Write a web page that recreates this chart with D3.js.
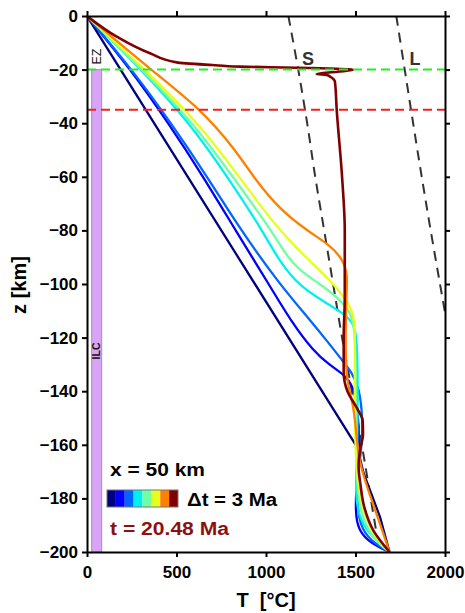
<!DOCTYPE html>
<html>
<head>
<meta charset="utf-8">
<script src="https://cdn.jsdelivr.net/npm/d3@7"></script>
<style>
  html, body { margin: 0; padding: 0; background: #fff; }
  svg text { font-family: "Liberation Sans", Arial, Helvetica, sans-serif; }
</style>
</head>
<body>
<svg id="chart" width="465" height="613"></svg>
<script>
// ---- data: temperature profiles, points are [T (°C), z (km)] ----
const xTicks = [0, 500, 1000, 1500, 2000];
const zTicks = [0, -20, -40, -60, -80, -100, -120, -140, -160, -180, -200];
const jetColors = ["#000080", "#0000ff", "#0066ff", "#00f0f0", "#70ffa0", "#e6ff1a", "#ff8000", "#800000"];

const prof0 = [[0,0],[1515,-161.5],[1528,-166],[1545,-170.5],[1637,-187],[1690,-200]];
const prof1 = [[0,0],[245,-20],[455,-40],[650,-60],[830,-80],[1015,-100],[1150,-115],[1265,-125],[1350,-130],[1440,-134],[1485,-138],[1510,-145],[1525,-160],[1508,-172],[1498,-185],[1515,-192],[1590,-197],[1690,-200]];
const prof2 = [[0,0],[252,-20],[470,-40],[672,-60],[860,-80],[1075,-100],[1240,-113],[1350,-122],[1420,-128],[1480,-133],[1522,-139],[1540,-150],[1536,-160],[1515,-170],[1508,-180],[1522,-190],[1585,-196],[1690,-200]];
const prof3 = [[0,0],[305,-20],[575,-40],[785,-60],[980,-80],[1078,-92],[1190,-101],[1339,-107.2],[1432,-111],[1480,-114],[1505,-118],[1512,-130],[1512,-150],[1508,-165],[1500,-178],[1515,-186],[1570,-193],[1690,-200]];
const prof4 = [[0,0],[310,-20],[595,-40],[815,-60],[1030,-80],[1120,-90],[1190,-95],[1300,-100],[1380,-104],[1450,-108.5],[1485,-113],[1498,-120],[1502,-135],[1502,-150],[1505,-165],[1510,-175],[1522,-184],[1590,-195],[1690,-200]];
const prof5 = [[0,0],[325,-20],[625,-40],[850,-60],[960,-70],[1078,-80],[1220,-90],[1358,-98.5],[1450,-106],[1488,-111],[1497,-117],[1496,-130],[1495,-150],[1502,-165],[1515,-175],[1538,-184],[1609,-195],[1690,-200]];
const prof6 = [[0,0],[355,-20],[641,-35],[830,-50],[939,-61],[1075,-72],[1227,-80],[1358,-85.5],[1432,-91],[1456,-97],[1450,-103],[1445,-115],[1445,-130],[1458,-138],[1486,-145],[1500,-152],[1516,-165],[1560,-175],[1630,-188],[1690,-200]];
const prof7 = [[0,0],[166,-7.7],[352,-13.9],[501,-17.3],[700,-18.3],[855,-18.9],[1171,-19.3],[1488,-20.1],[1400,-20.8],[1283,-21.6],[1340,-22],[1358,-22.6],[1385,-24.5],[1395,-35],[1425,-60],[1440,-80],[1440,-105],[1434,-120],[1434,-133],[1455,-140],[1505,-146],[1540,-151],[1542,-156],[1525,-162],[1517,-168],[1528,-175],[1548,-183],[1600,-192],[1690,-200]];
const profiles = [prof0, prof1, prof2, prof3, prof4, prof5, prof6, prof7];

const solidus = [[1125,0],[1180,-20],[1230,-40],[1275,-60],[1325,-80],[1375,-100],[1425,-120],[1480,-140],[1535,-160],[1585,-180],[1635,-200]];
const liquidus = [[1728,0],[1775,-20],[1822,-40],[1870,-60],[1920,-80],[1972,-100],[2025,-120]];
const ezDepth = -20;      // green dashed
const mohoDepth = -35;    // red dashed
const ilcRange = [26, 82]; // purple bar, T range
const ilcDepth = [-20, -200];

// ---- drawing ----
const svg = d3.select("#chart");
const x = d3.scaleLinear().domain([0, 2000]).range([87, 445]);
const y = d3.scaleLinear().domain([0, -200]).range([16, 552]);

svg.append("defs").append("clipPath").attr("id", "plotclip")
  .append("rect").attr("x", x(0)).attr("y", y(0))
  .attr("width", x(2000) - x(0)).attr("height", y(-200) - y(0));

const plot = svg.append("g").attr("clip-path", "url(#plotclip)");

// ILC bar
plot.append("rect")
  .attr("x", x(ilcRange[0])).attr("y", y(ilcDepth[0]))
  .attr("width", x(ilcRange[1]) - x(ilcRange[0]))
  .attr("height", y(ilcDepth[1]) - y(ilcDepth[0]))
  .attr("fill", "#d9a3f7").attr("stroke", "#9a9a9a").attr("stroke-width", 1);

const smooth = d3.line().x(d => x(d[0])).y(d => y(d[1])).curve(d3.curveBasis);
const mono = d3.line().x(d => x(d[0])).y(d => y(d[1])).curve(d3.curveMonotoneY);
const lin = d3.line().x(d => x(d[0])).y(d => y(d[1])).curve(d3.curveLinear);
const straight = d3.line().x(d => x(d[0])).y(d => y(d[1])).curve(d3.curveCatmullRom);

// solidus / liquidus
[solidus, liquidus].forEach(s => {
  plot.append("path").datum(s).attr("d", straight).attr("fill", "none")
    .attr("stroke", "#333").attr("stroke-width", 2).attr("stroke-dasharray", "10,7");
});

profiles.forEach((p, i) => {
  const gen = i === 0 ? lin : (i === 7 ? mono : smooth);
  plot.append("path").datum(p).attr("d", gen).attr("fill", "none")
    .attr("stroke", jetColors[i]).attr("stroke-width", i === 7 ? 2.6 : 2.3)
    .attr("stroke-linejoin", "round");
});

// horizontal dashed lines
plot.append("line").attr("x1", x(0)).attr("x2", x(2000)).attr("y1", y(ezDepth)).attr("y2", y(ezDepth))
  .attr("stroke", "#22ee22").attr("stroke-width", 2).attr("stroke-dasharray", "9,5");
plot.append("line").attr("x1", x(0)).attr("x2", x(2000)).attr("y1", y(mohoDepth)).attr("y2", y(mohoDepth))
  .attr("stroke", "#ee2222").attr("stroke-width", 2).attr("stroke-dasharray", "9,5");

// labels S, L, EZ, ILC
svg.append("text").attr("x", 308).attr("y", 65).attr("text-anchor", "middle")
  .attr("font-size", 18).attr("font-weight", "bold").attr("fill", "#333").text("S");
svg.append("text").attr("x", 415).attr("y", 65).attr("text-anchor", "middle")
  .attr("font-size", 18).attr("font-weight", "bold").attr("fill", "#333").text("L");
svg.append("text").attr("transform", "translate(101,56.5) rotate(-90)").attr("text-anchor", "middle")
  .attr("font-size", 12.5).attr("fill", "#111").text("EZ");
svg.append("text").attr("transform", "translate(100,351) rotate(-90)").attr("text-anchor", "middle")
  .attr("font-size", 10.5).attr("font-weight", "bold").attr("fill", "#111").text("ILC");

// axes
function styleAxis(g) {
  g.select(".domain").attr("stroke", "#000").attr("stroke-width", 2);
  g.selectAll(".tick line").attr("stroke", "#000").attr("stroke-width", 2);
  g.selectAll(".tick text").attr("font-size", 17).attr("font-weight", "bold").attr("fill", "#000")
    .attr("font-family", "'Liberation Sans', Arial, sans-serif");
}
svg.append("g").attr("transform", `translate(${x(0)},0)`)
  .call(d3.axisLeft(y).tickValues(zTicks).tickSize(5).tickSizeOuter(0).tickPadding(4))
  .call(styleAxis);
svg.append("g").attr("transform", `translate(${x(2000)},0)`)
  .call(d3.axisRight(y).tickValues(zTicks).tickSize(5).tickSizeOuter(0).tickFormat(""))
  .call(styleAxis);
svg.append("g").attr("transform", `translate(0,${y(-200)})`)
  .call(d3.axisBottom(x).tickValues(xTicks).tickSize(5).tickSizeOuter(0).tickPadding(9).tickFormat(d3.format("d")))
  .call(styleAxis);
svg.append("g").attr("transform", `translate(0,${y(0)})`)
  .call(d3.axisTop(x).tickValues(xTicks).tickSize(5).tickSizeOuter(0).tickFormat(""))
  .call(styleAxis);

// axis titles
svg.append("text").attr("transform", "translate(26,285) rotate(-90)").attr("text-anchor", "middle")
  .attr("font-size", 20).attr("font-weight", "bold").text("z [km]");
svg.append("text").attr("x", 266).attr("y", 607).attr("text-anchor", "middle")
  .attr("font-size", 20).attr("font-weight", "bold").attr("xml:space", "preserve").text("T  [°C]");

// legend
svg.append("text").attr("x", 110).attr("y", 476).attr("font-size", 18).attr("font-weight", "bold")
  .attr("xml:space", "preserve").attr("textLength", 95).attr("lengthAdjust", "spacingAndGlyphs").text("x = 50 km");
const cbX = d3.scaleBand().domain(d3.range(jetColors.length)).range([107, 178]);
svg.append("g").selectAll("rect").data(jetColors).join("rect")
  .attr("x", (d, i) => cbX(i)).attr("y", 490).attr("width", cbX.bandwidth()).attr("height", 17)
  .attr("fill", d => d);
svg.append("rect").attr("x", 107).attr("y", 490).attr("width", 71).attr("height", 17)
  .attr("fill", "none").attr("stroke", "#777").attr("stroke-width", 1);
svg.append("text").attr("x", 187).attr("y", 506).attr("font-size", 18).attr("font-weight", "bold")
  .attr("textLength", 90).attr("lengthAdjust", "spacingAndGlyphs").text("Δt = 3 Ma");
svg.append("text").attr("x", 110).attr("y", 535).attr("font-size", 18).attr("font-weight", "bold")
  .attr("textLength", 119).attr("lengthAdjust", "spacingAndGlyphs")
  .attr("fill", "#8b1111").text("t = 20.48 Ma");
</script>
</body>
</html>
